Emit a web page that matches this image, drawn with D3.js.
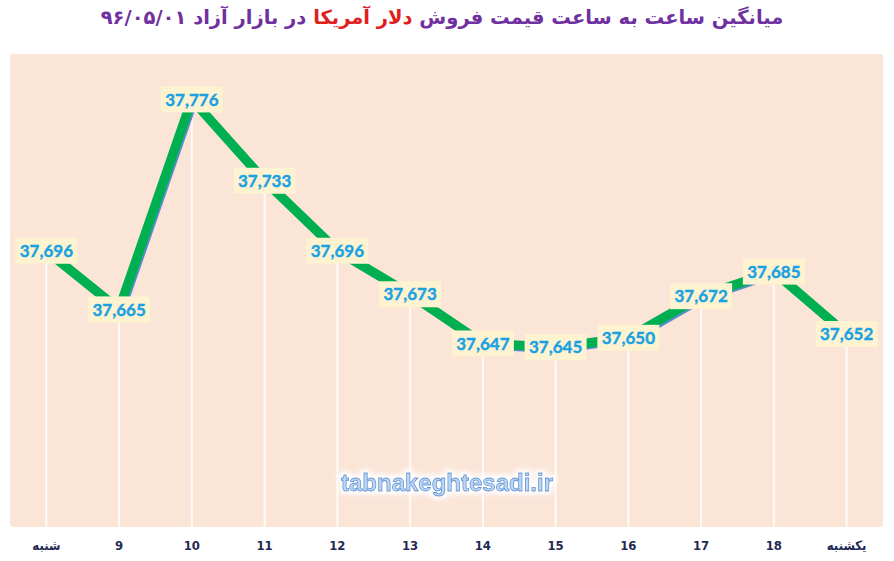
<!DOCTYPE html>
<html>
<head>
<meta charset="utf-8">
<title>Dollar price chart</title>
<script src="https://d3js.org/d3.v7.min.js"></script>
<style>
 html, body { margin: 0; padding: 0; background: #ffffff; }
 #chart { width: 894px; height: 561px; }
</style>
</head>
<body>
<div id="chart"></div>
<script>
 // hours of the day (first and last are day names)
 const categories = ["شنبه", "9", "10", "11", "12", "13", "14", "15", "16", "17", "18", "یکشنبه"]
 const prices = [37696, 37665, 37776, 37733, 37696, 37673, 37647, 37645, 37650, 37672, 37685, 37652]
 const yDomain = [37550, 37800]

 const titleMain = "میانگین ساعت به ساعت قیمت فروش "
 const titleRed = "دلار آمریکا"
 const titleEnd = " در بازار آزاد ۹۶/۰۵/۰۱"
 const watermark = "tabnakeghtesadi.ir"

 const W = 894, H = 561
 const plot = {left: 10, right: 883, top: 54, bottom: 527}

 const svg = d3.select("#chart").append("svg")
     .attr("width", W).attr("height", H)

 const defs = svg.append("defs")
 const glow = defs.append("filter").attr("id", "glow")
     .attr("x", "-20%").attr("y", "-50%").attr("width", "140%").attr("height", "200%")
 glow.append("feMorphology").attr("in", "SourceAlpha").attr("operator", "dilate").attr("radius", 3).attr("result", "d")
 glow.append("feGaussianBlur").attr("in", "d").attr("stdDeviation", 2.5).attr("result", "b")
 glow.append("feFlood").attr("flood-color", "#ffffff")
 glow.append("feComposite").attr("in2", "b").attr("operator", "in").attr("result", "w")
 const merge = glow.append("feMerge")
 merge.append("feMergeNode").attr("in", "w")
 merge.append("feMergeNode").attr("in", "SourceGraphic")

 // title
 svg.append("text")
    .attr("x", 442).attr("y", 24)
    .attr("text-anchor", "middle")
    .attr("direction", "rtl")
    .attr("font-family", "DejaVu Sans")
    .attr("font-weight", "bold")
    .attr("font-size", 19.5)
    .attr("fill", "#7030a0")
    .call(t => {
        t.append("tspan").text(titleMain)
        t.append("tspan").attr("fill", "#e0201c").text(titleRed)
        t.append("tspan").text(titleEnd)
    })

 const x = d3.scaleBand()
     .domain(categories)
     .range([plot.left, plot.right])

 const y = d3.scaleLinear()
     .domain(yDomain)
     .range([plot.bottom, plot.top])

 const cx = d => x(d) + x.bandwidth() / 2

 // plot background
 svg.append("rect")
    .attr("x", plot.left).attr("y", plot.top)
    .attr("width", plot.right - plot.left).attr("height", plot.bottom - plot.top)
    .attr("rx", 3)
    .attr("fill", "#fbe5d7")

 // faint gridlines between categories
 svg.append("g").selectAll("line")
    .data(categories.slice(1))
    .join("line")
    .attr("x1", d => x(d)).attr("x2", d => x(d))
    .attr("y1", plot.top).attr("y2", plot.bottom)
    .attr("stroke", "#ffffff").attr("stroke-opacity", 0.15).attr("stroke-width", 1)

 const points = categories.map((c, i) => ({cat: c, val: prices[i]}))

 // drop lines
 svg.append("g").selectAll("line")
    .data(points)
    .join("line")
    .attr("x1", d => cx(d.cat)).attr("x2", d => cx(d.cat))
    .attr("y1", d => y(d.val)).attr("y2", plot.bottom)
    .attr("stroke", "#ffffff").attr("stroke-opacity", 0.85).attr("stroke-width", 2)

 const line = d3.line()
     .x(d => cx(d.cat))
     .y(d => y(d.val))

 // shadow line
 svg.append("path")
    .datum(points)
    .attr("transform", "translate(2,2)")
    .attr("fill", "none")
    .attr("stroke", "#5b8bd0")
    .attr("stroke-width", 8)
    .attr("stroke-linejoin", "miter")
    .attr("d", line)

 svg.append("path")
    .datum(points)
    .attr("fill", "none")
    .attr("stroke", "#00b050")
    .attr("stroke-width", 9.5)
    .attr("stroke-linejoin", "miter")
    .attr("d", line)

 // value labels
 const fmt = d3.format(",")
 const lab = svg.append("g").selectAll("g")
    .data(points)
    .join("g")
    .attr("transform", d => `translate(${cx(d.cat)},${y(d.val)})`)
 lab.append("rect")
    .attr("x", -31).attr("y", -13)
    .attr("width", 62).attr("height", 26)
    .attr("fill", "#fdf3d0")
 lab.append("text")
    .attr("text-anchor", "middle")
    .attr("dy", "0.36em")
    .attr("font-family", "Lato")
    .attr("font-weight", "bold")
    .attr("font-size", 17)
    .attr("fill", "#1ba1e2")
    .attr("stroke", "#1ba1e2")
    .attr("stroke-width", 0.4)
    .text(d => fmt(d.val))

 // watermark
 svg.append("text")
    .attr("x", 447).attr("y", 491)
    .attr("text-anchor", "middle")
    .attr("font-family", "Liberation Sans Narrow, Liberation Sans")
    .attr("font-weight", "bold")
    .attr("font-size", 24)
    .attr("fill", "#bcd7f3")
    .attr("stroke", "#5a92d4")
    .attr("stroke-width", 0.8)
    .attr("filter", "url(#glow)")
    .text(watermark)

 // category axis
 svg.append("g")
    .attr("transform", `translate(0,${plot.bottom})`)
    .call(d3.axisBottom(x).tickSize(0).tickPadding(14))
    .call(g => g.select(".domain").remove())
    .call(g => g.selectAll("text")
        .attr("font-family", "DejaVu Sans Condensed, DejaVu Sans")
        .attr("font-weight", "bold")
        .attr("font-size", 13)
        .attr("fill", "#1f2a55"))
</script>
</body>
</html>
